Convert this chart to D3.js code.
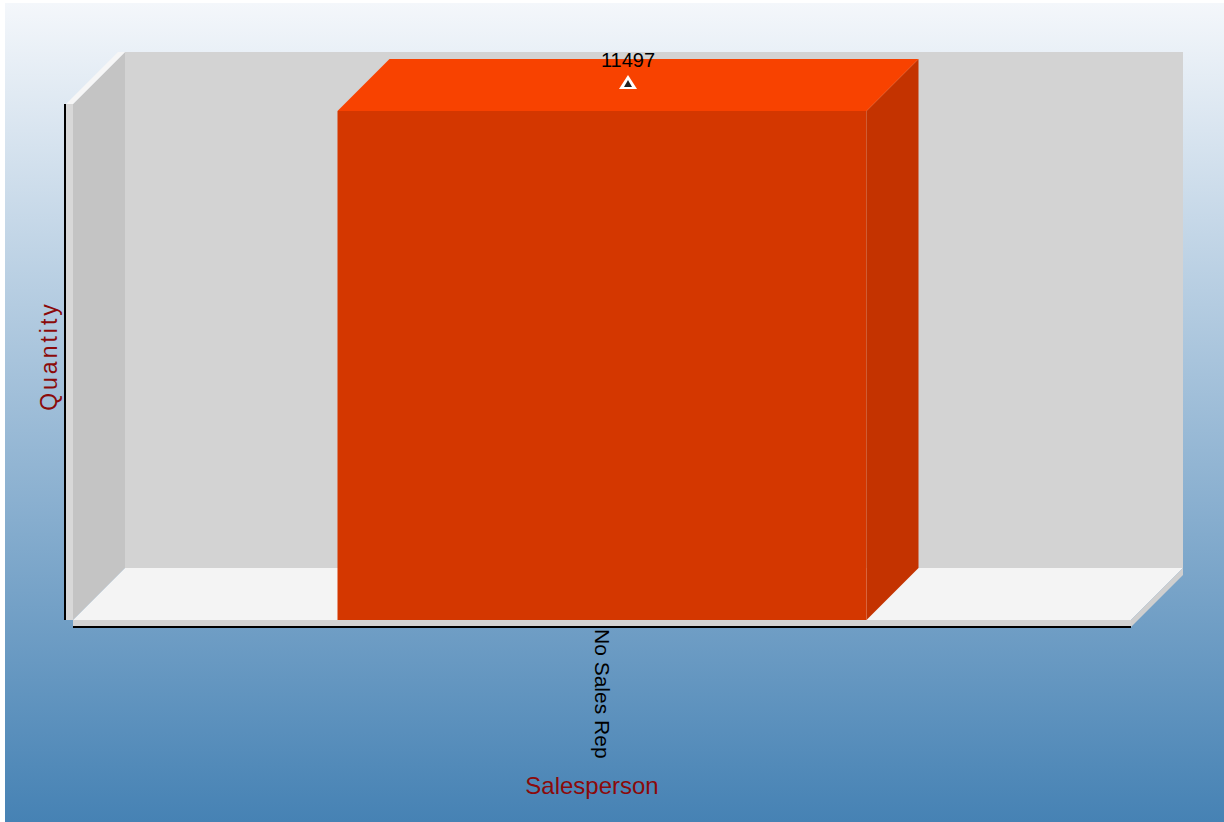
<!DOCTYPE html>
<html>
<head>
<meta charset="utf-8">
<script src="https://cdn.jsdelivr.net/npm/d3@7"></script>
<style>
  html, body { margin: 0; padding: 0; background: #fff; }
  svg { display: block; font-family: "Liberation Sans", Arial, sans-serif; }
</style>
</head>
<body>
<script>
// data
var salespeople = ["No Sales Rep"];
var quantities = [11497];
var yMax = 11655; // axis top, a bit above the bar

var width = 1224, height = 822,
    depth = 52,
    plotLeft = 73, plotRight = 1131,   // front edge of the floor
    plotTop = 104, plotBottom = 620;   // front edge of the y axis

var svg = d3.select("body").append("svg")
    .attr("width", width)
    .attr("height", height);

var defs = svg.append("defs");
var grad = defs.append("linearGradient")
    .attr("id", "bg")
    .attr("x1", 0).attr("y1", 0).attr("x2", 0).attr("y2", 1);
grad.append("stop").attr("offset", "0%").attr("stop-color", "#f4f7fb");
grad.append("stop").attr("offset", "100%").attr("stop-color", "#4682b4");

svg.append("rect")
    .attr("x", 5).attr("y", 3)
    .attr("width", width - 5).attr("height", height - 3)
    .attr("fill", "url(#bg)");

var x = d3.scaleBand()
    .domain(salespeople)
    .range([plotLeft, plotRight])
    .padding(1 / 3);

var y = d3.scaleLinear()
    .domain([0, yMax])
    .range([plotBottom, plotTop]);

function poly(pts) { return "M" + pts.map(function(p) { return p.join(","); }).join("L") + "Z"; }

// back wall
svg.append("rect")
    .attr("x", plotLeft + depth).attr("y", plotTop - depth)
    .attr("width", plotRight - plotLeft).attr("height", plotBottom - plotTop)
    .attr("fill", "#d3d3d3");

// left wall + its edges
svg.append("path")
    .attr("d", poly([[plotLeft, plotTop], [plotLeft + depth, plotTop - depth], [plotLeft + depth, plotBottom - depth], [plotLeft, plotBottom]]))
    .attr("fill", "#c4c4c4");
svg.append("path")
    .attr("d", poly([[plotLeft - 7, plotTop], [plotLeft, plotTop], [plotLeft + depth, plotTop - depth], [plotLeft + depth - 7, plotTop - depth]]))
    .attr("fill", "#f6f6f6");
svg.append("rect")
    .attr("x", plotLeft - 7).attr("y", plotTop)
    .attr("width", 7).attr("height", plotBottom - plotTop)
    .attr("fill", "#d8d8d8");

// floor + its edges
svg.append("path")
    .attr("d", poly([[plotLeft, plotBottom], [plotLeft + depth, plotBottom - depth], [plotRight + depth, plotBottom - depth], [plotRight, plotBottom]]))
    .attr("fill", "#f4f4f4");
svg.append("rect")
    .attr("x", plotLeft).attr("y", plotBottom)
    .attr("width", plotRight - plotLeft).attr("height", 7)
    .attr("fill", "#d3d3d3");
svg.append("path")
    .attr("d", poly([[plotRight, plotBottom], [plotRight + depth, plotBottom - depth], [plotRight + depth, plotBottom - depth + 7], [plotRight, plotBottom + 7]]))
    .attr("fill", "#cfcfcf");

// axis lines
svg.append("line")
    .attr("x1", plotLeft - 8).attr("x2", plotLeft - 8)
    .attr("y1", plotTop).attr("y2", plotBottom)
    .attr("stroke", "#000").attr("stroke-width", 2);
svg.append("line")
    .attr("x1", plotLeft).attr("x2", plotRight)
    .attr("y1", plotBottom + 7).attr("y2", plotBottom + 7)
    .attr("stroke", "#000").attr("stroke-width", 2);

// bars
var bars = svg.selectAll(".bar")
    .data(salespeople.map(function(s, i) { return { name: s, value: quantities[i] }; }))
    .enter().append("g")
    .attr("class", "bar");

bars.append("path") // side
    .attr("d", function(d) {
      var x1 = x(d.name) + x.bandwidth(), yt = y(d.value);
      return poly([[x1, yt], [x1 + depth, yt - depth], [x1 + depth, plotBottom - depth], [x1, plotBottom]]);
    })
    .attr("fill", "#c43300");
bars.append("path") // top
    .attr("d", function(d) {
      var x0 = x(d.name), x1 = x0 + x.bandwidth(), yt = y(d.value);
      return poly([[x0, yt], [x0 + depth, yt - depth], [x1 + depth, yt - depth], [x1, yt]]);
    })
    .attr("fill", "#f84200");
bars.append("rect") // front
    .attr("x", function(d) { return x(d.name); })
    .attr("y", function(d) { return y(d.value); })
    .attr("width", x.bandwidth())
    .attr("height", function(d) { return plotBottom - y(d.value); })
    .attr("fill", "#d43700");

// value labels + markers
bars.append("text")
    .attr("x", function(d) { return x(d.name) + x.bandwidth() / 2 + depth / 2; })
    .attr("y", function(d) { return y(d.value) - depth + 8; })
    .attr("text-anchor", "middle")
    .attr("font-size", 20)
    .attr("fill", "#000")
    .text(function(d) { return d.value; });

var marker = bars.append("g")
    .attr("transform", function(d) {
      return "translate(" + (x(d.name) + x.bandwidth() / 2 + depth / 2) + "," + (y(d.value) - 28) + ")";
    });
marker.append("path")
    .attr("d", "M0,-8L9,6L-9,6Z")
    .attr("fill", "#fff");
marker.append("path")
    .attr("d", "M0,-3L4,4L-4,4Z")
    .attr("fill", "#222");

// x tick labels
svg.selectAll(".xlabel")
    .data(salespeople)
    .enter().append("text")
    .attr("class", "xlabel")
    .attr("transform", function(d) { return "translate(" + (x(d) + x.bandwidth() / 2 - 7) + "," + (plotBottom + 9) + ") rotate(90)"; })
    .attr("font-size", 21)
    .attr("fill", "#000")
    .text(function(d) { return d; });

// axis titles
svg.append("text")
    .attr("x", 592).attr("y", 794)
    .attr("text-anchor", "middle")
    .attr("font-size", 24)
    .attr("fill", "#8b0a0a")
    .text("Salesperson");

svg.append("text")
    .attr("transform", "translate(57,356) rotate(-90)")
    .attr("text-anchor", "middle")
    .attr("font-size", 23)
    .attr("letter-spacing", 3)
    .attr("fill", "#8b0a0a")
    .text("Quantity");
</script>
</body>
</html>
